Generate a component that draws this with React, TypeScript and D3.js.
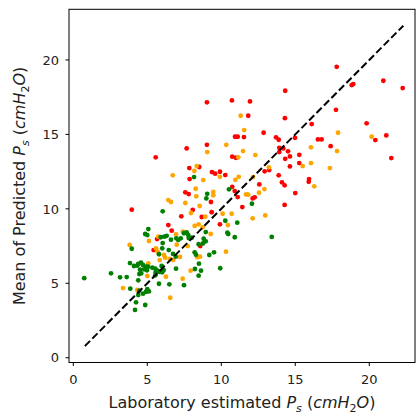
import React from "react";
import * as d3 from "d3";

const redPoints: [number, number][] = [
  [17.8,19.54],[18.81,18.31],[18.92,18.38],[20.95,18.6],[22.26,18.11],[17.75,16.65],[16.11,15.69],[19.82,15.74],
  [20.41,14.62],[21.15,14.93],[16.53,14.66],[16.78,14.66],[17.39,14.21],[21.49,13.41],[15.27,13.63],[15.27,13.07],
  [15.93,12.0],[15.91,11.82],[9.03,17.15],[10.72,17.28],[11.94,17.21],[14.32,17.93],[11.82,16.25],[14.3,16.09],
  [12.86,15.11],[10.93,14.84],[11.11,14.84],[11.53,14.82],[13.7,14.8],[13.88,14.64],[14.98,14.77],[13.92,14.1],
  [14.19,14.06],[13.92,13.81],[14.51,13.86],[10.74,13.5],[10.99,13.43],[14.64,13.52],[14.32,13.36],[14.64,12.85],
  [9.91,12.49],[10.27,12.27],[13.24,12.6],[12.93,12.52],[13.88,12.25],[14.1,11.78],[14.28,11.58],[12.57,11.64],
  [10.74,11.48],[10.91,11.19],[15.0,11.06],[11.11,10.79],[12.12,10.7],[12.26,10.77],[11.42,10.12],[14.28,10.26],
  [9.91,8.96],[7.66,14.06],[9.03,14.3],[5.57,13.46],[7.84,12.74],[8.51,12.81],[7.86,12.0],[9.37,12.47],
  [9.59,12.36],[7.57,11.11],[7.8,10.99],[9.3,10.46],[8.07,9.92],[9.35,9.77],[3.95,9.94],[7.3,9.5],
  [6.42,8.91],[6.65,8.53],[5.66,7.97],[5.43,7.23],[8.58,7.5],[8.68,9.45]
];

const orangePoints: [number, number][] = [
  [17.89,15.11],[20.16,14.84],[16.06,14.13],[17.82,13.88],[15.5,12.87],[16.06,13.07],[17.34,12.74],[16.28,11.51],
  [11.31,16.25],[11.55,15.29],[10.34,14.3],[11.47,13.88],[12.3,13.61],[11.15,13.46],[9.91,12.15],[13.22,12.79],
  [12.14,12.13],[11.18,12.15],[10.95,11.95],[12.91,11.33],[12.55,11.08],[11.67,10.97],[11.82,10.95],[10.09,9.67],
  [10.7,9.67],[12.12,9.36],[12.97,9.56],[10.45,8.91],[9.05,13.81],[8.34,12.87],[8.18,12.54],[8.78,11.93],
  [6.72,12.25],[8.27,11.35],[9.46,11.13],[9.46,10.91],[8.31,10.84],[6.42,10.59],[6.6,10.46],[7.57,10.39],
  [8.54,10.19],[7.95,9.72],[8.92,9.47],[8.47,8.96],[8.2,8.85],[8.74,8.76],[9.28,8.31],[6.94,8.29],
  [5.74,8.13],[5.11,7.84],[3.81,7.57],[6.99,7.59],[7.73,7.5],[5.59,7.35],[5.7,7.12],[6.13,6.9],
  [6.2,6.72],[6.51,6.63],[6.76,6.56],[8.38,6.74],[8.56,6.79],[10.32,7.12],[5.84,6.56],[5.07,6.34],
  [7.93,5.85],[5.0,5.49],[6.26,5.44],[7.39,5.31],[3.36,4.68],[4.32,4.55],[6.55,4.03],[7.21,6.77],[7.41,8.46]
];

const greenPoints: [number, number][] = [
  [10.52,11.31],[12.07,10.34],[10.27,9.2],[11.08,9.07],[10.41,8.4],[10.47,8.31],[10.91,8.09],[13.41,8.11],
  [6.92,6.79],[9.19,6.9],[8.49,6.32],[6.94,5.98],[8.22,5.96],[8.63,5.85],[9.93,6.01],[8.47,5.51],
  [7.48,4.87],[5.07,8.64],[4.86,8.31],[5.0,8.24],[7.48,8.36],[7.66,8.42],[7.77,8.24],[8.95,8.44],
  [5.91,8.09],[6.15,8.13],[6.31,8.19],[6.6,7.93],[6.96,8.02],[7.09,7.91],[7.26,8.02],[7.8,8.04],
  [8.0,8.06],[8.81,7.99],[8.95,7.82],[3.95,7.32],[6.04,7.7],[8.47,7.62],[8.76,7.68],[6.01,7.35],
  [5.79,6.95],[6.45,7.23],[6.74,6.97],[8.2,7.08],[8.29,6.92],[9.51,7.08],[4.57,6.38],[4.39,6.3],
  [3.83,6.36],[4.1,6.16],[4.32,6.18],[4.71,6.23],[4.91,6.11],[5.05,6.11],[5.34,6.05],[4.51,5.91],
  [4.78,5.94],[4.98,5.87],[5.54,5.98],[5.68,5.85],[6.11,5.89],[5.84,5.76],[5.57,5.74],[2.55,5.67],
  [3.16,5.4],[3.61,5.42],[4.46,5.62],[4.59,5.67],[4.39,5.2],[5.54,5.54],[0.74,5.34],[3.85,4.64],
  [5.79,4.97],[6.49,4.93],[4.46,4.5],[4.71,4.3],[5.0,4.6],[4.91,4.42],[4.39,4.21],[4.24,3.72],
  [4.86,3.54],[4.17,3.21],[6.04,9.83],[9.05,11.01],[8.99,10.7],[8.16,12.13],[6.01,5.74],[5.11,4.45],[5.97,6.16]
];

const identityRange = [0.78, 22.3];
const xTicks = [0, 5, 10, 15, 20];
const yTicks = [0, 5, 10, 15, 20];
const xDomain = [-0.29, 23.09];
const yDomain = [-0.32, 23.4];

const series = [
  { pts: redPoints, color: "#ff0000" },
  { pts: orangePoints, color: "#ffa500" },
  { pts: greenPoints, color: "#008000" },
];

function AxisLabel({ prefix }: { prefix: string }) {
  return (
    <>
      <tspan>{prefix}</tspan>
      <tspan fontStyle="italic">P</tspan>
      <tspan fontStyle="italic" fontSize={11} dy={3.5}>s</tspan>
      <tspan dy={-3.5}> (</tspan>
      <tspan fontStyle="italic">cmH</tspan>
      <tspan fontSize={11} dy={3.5}>2</tspan>
      <tspan fontStyle="italic" dy={-3.5}>O</tspan>
      <tspan>)</tspan>
    </>
  );
}

export default function App() {
  const W = 416, H = 414;
  const left = 69, right = 415, top = 9.3, bottom = 362.5;
  const x = d3.scaleLinear().domain(xDomain).range([left, right]);
  const y = d3.scaleLinear().domain(yDomain).range([bottom, top]);
  const line = d3.line<number>().x((d) => x(d)).y((d) => y(d));
  const font = "DejaVu Sans";
  return (
    <svg width={W} height={H} style={{ position: "absolute", left: 0, top: 0 }} fontFamily={font}>
      <rect x={0} y={0} width={W} height={H} fill="white" />
      {series.map((s, i) => (
        <g key={i}>
          {s.pts.map((p, j) => (
            <circle key={j} cx={x(p[0])} cy={y(p[1])} r={2.4} fill={s.color} />
          ))}
        </g>
      ))}
      <path d={line(identityRange) || ""} stroke="black" strokeWidth={2} strokeDasharray="7.4,3.2" fill="none" />
      <rect x={left} y={top} width={right - left} height={bottom - top} fill="none" stroke="black" strokeWidth={1} />
      {xTicks.map((t) => (
        <g key={t}>
          <line x1={x(t)} x2={x(t)} y1={bottom} y2={bottom + 3.5} stroke="black" />
          <text x={x(t)} y={383.5} fontSize={13} textAnchor="middle" fill="#222">{t}</text>
        </g>
      ))}
      {yTicks.map((t) => (
        <g key={t}>
          <line x1={left - 3.5} x2={left} y1={y(t)} y2={y(t)} stroke="black" />
          <text x={left - 10} y={y(t) + 4.7} fontSize={13} textAnchor="end" fill="#222">{t}</text>
        </g>
      ))}
      <text x={(left + right) / 2} y={408} fontSize={16} textAnchor="middle" fill="#222">
        <AxisLabel prefix="Laboratory estimated " />
      </text>
      <text transform={`translate(25, ${(top + bottom) / 2}) rotate(-90)`} fontSize={16} textAnchor="middle" fill="#222">
        <AxisLabel prefix="Mean of Predicted " />
      </text>
    </svg>
  );
}
